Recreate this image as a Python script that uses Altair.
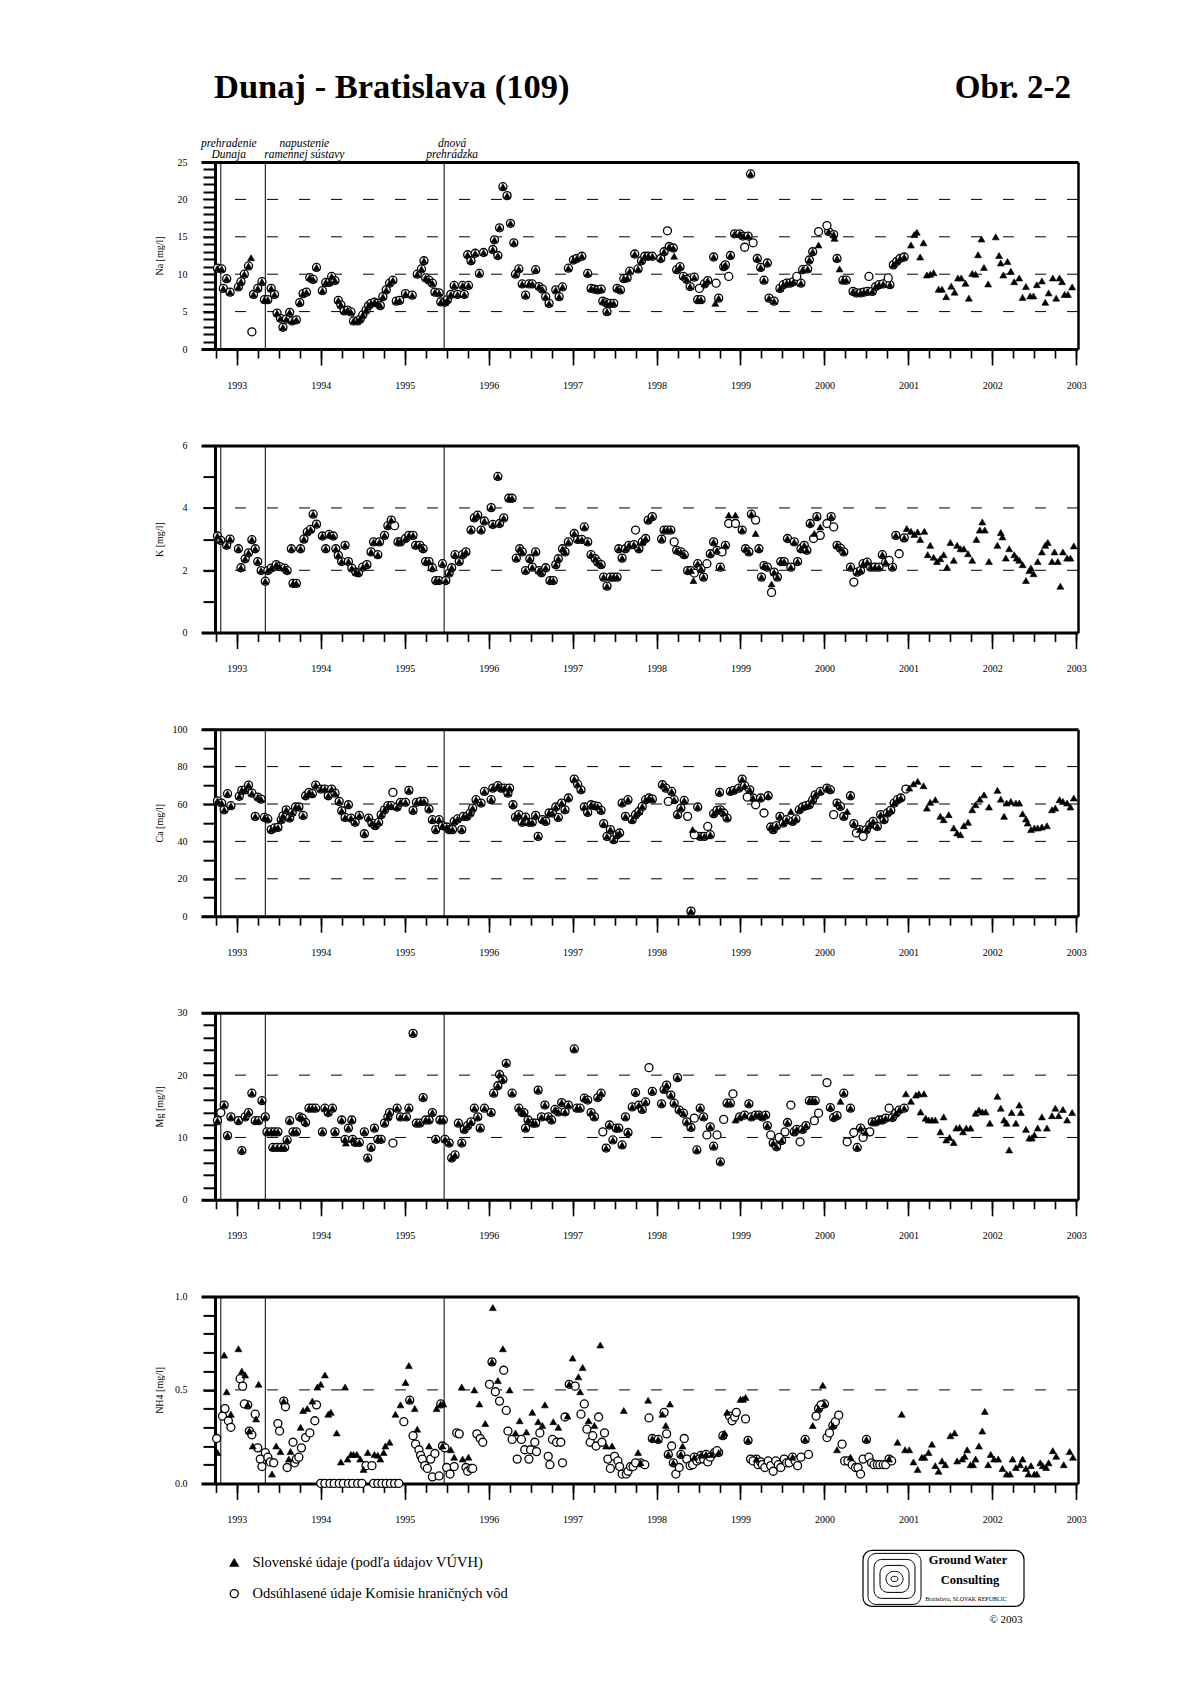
import json
import altair as alt
import pandas as pd

SERIF = "Liberation Serif"
SK = "Slovenské údaje (podľa údajov VÚVH)"
KH = "Odsúhlasené údaje Komisie hraničných vôd"

X_DOMAIN = [1992.574, 2003.02]
YEAR_TICKS = list(range(1993, 2004))
QUARTER_TICKS = [1992.75 + 0.25 * i for i in range(42)]
EVENTS = [1992.81, 1993.34, 1995.47]
EVENT_TEXT = [["prehradenie", "Dunaja"], ["napustenie", "ramennej sústavy"], ["dnová", "prehrádzka"]]
EVENT_DX = [8, 39, 8]

# ---------------- Na ----------------
NA_BOTH = [[1992.77,10.8],[1992.82,10.7],[1992.84,8.1],[1992.88,9.4],[1992.92,7.6],[1993.02,8.3],[1993.05,9.0],[1993.09,10.0],[1993.14,11.1],[1993.20,7.3],[1993.25,8.1],[1993.30,9.0],[1993.33,6.6],[1993.37,6.6],[1993.41,8.1],[1993.45,7.3],[1993.48,4.8],[1993.52,4.1],[1993.55,2.9],[1993.59,4.0],[1993.63,4.9],[1993.66,3.75],[1993.71,3.9],[1993.75,6.2],[1993.79,7.4],[1993.83,7.6],[1993.87,9.55],[1993.91,9.3],[1993.95,10.9],[1994.02,7.8],[1994.06,8.9],[1994.10,8.9],[1994.13,9.7],[1994.17,9.15],[1994.21,6.5],[1994.24,5.9],[1994.28,5.1],[1994.32,5.2],[1994.36,4.95],[1994.39,3.75],[1994.44,3.75],[1994.47,4.0],[1994.50,4.55],[1994.54,5.2],[1994.57,5.8],[1994.60,6.1],[1994.64,6.25],[1994.68,6.1],[1994.71,5.8],[1994.74,7.0],[1994.78,7.9],[1994.82,8.8],[1994.86,9.2],[1994.90,6.4],[1994.94,6.5],[1995.01,7.4],[1995.09,7.2],[1995.15,10.0],[1995.20,10.7],[1995.23,11.8],[1995.25,9.5],[1995.29,9.2],[1995.33,8.8],[1995.36,7.6],[1995.41,7.5],[1995.43,6.3],[1995.48,6.25],[1995.51,6.6],[1995.55,7.3],[1995.59,8.5],[1995.63,7.3],[1995.69,8.5],[1995.71,7.3],[1995.75,12.6],[1995.76,8.5],[1995.79,11.8],[1995.84,12.8],[1995.89,10.1],[1995.94,12.9],[1996.05,13.3],[1996.07,14.6],[1996.11,12.5],[1996.13,16.2],[1996.17,21.7],[1996.22,20.5],[1996.26,16.8],[1996.30,14.2],[1996.32,10.0],[1996.36,10.7],[1996.40,8.7],[1996.44,7.2],[1996.48,8.7],[1996.52,8.7],[1996.56,10.6],[1996.60,8.35],[1996.64,8.0],[1996.68,7.0],[1996.72,6.1],[1996.80,7.9],[1996.84,7.0],[1996.88,8.3],[1996.95,10.8],[1997.01,11.9],[1997.05,12.1],[1997.11,12.4],[1997.18,10.1],[1997.22,8.1],[1997.26,8.0],[1997.30,7.9],[1997.34,8.0],[1997.36,6.4],[1997.40,6.2],[1997.41,5.0],[1997.45,6.1],[1997.49,6.1],[1997.53,8.1],[1997.57,7.9],[1997.61,9.4],[1997.65,9.5],[1997.68,10.4],[1997.74,12.7],[1997.78,10.7],[1997.82,11.8],[1997.86,12.4],[1997.90,12.4],[1997.95,12.4],[1998.05,12.1],[1998.09,13.0],[1998.15,13.7],[1998.20,13.5],[1998.24,10.6],[1998.28,11.0],[1998.32,9.7],[1998.36,9.3],[1998.40,8.35],[1998.45,9.6],[1998.49,6.6],[1998.53,6.6],[1998.57,8.7],[1998.61,9.15],[1998.68,12.3],[1998.74,6.8],[1998.80,11.0],[1998.82,11.25],[1998.88,12.5],[1998.93,15.4],[1998.99,15.4],[1999.03,15.1],[1999.09,15.1],[1999.12,23.4],[1999.20,12.1],[1999.24,10.9],[1999.28,9.2],[1999.32,11.5],[1999.34,6.8],[1999.40,6.4],[1999.47,8.1],[1999.51,8.6],[1999.55,8.8],[1999.59,8.8],[1999.63,9.0],[1999.72,8.8],[1999.74,10.6],[1999.80,10.7],[1999.82,11.9],[1999.86,13.0],[2000.05,15.7],[2000.11,15.3],[2000.15,12.1],[2000.22,9.2],[2000.26,9.2],[2000.34,7.7],[2000.38,7.5],[2000.43,7.5],[2000.47,7.6],[2000.51,7.7],[2000.57,7.7],[2000.61,8.35],[2000.65,8.6],[2000.70,8.7],[2000.78,8.6],[2000.82,11.25],[2000.86,11.7],[2000.90,12.1],[2000.95,12.3]]
NA_SK = [[1993.17,12.2],[1998.21,12.4],[1998.70,6.1],[1999.93,13.9],[2000.12,14.8],[2000.18,10.7],[2001.03,13.9],[2001.07,15.3],[2001.10,15.6],[2001.14,12.3],[2001.18,14.2],[2001.22,9.9],[2001.26,10.0],[2001.30,10.2],[2001.36,8.0],[2001.40,8.0],[2001.45,7.0],[2001.51,8.4],[2001.55,7.6],[2001.59,9.5],[2001.63,9.5],[2001.68,8.8],[2001.72,6.8],[2001.76,10.1],[2001.80,10.0],[2001.83,12.6],[2001.87,14.7],[2001.90,10.9],[2001.95,8.7],[2002.04,15.0],[2002.08,12.5],[2002.10,11.5],[2002.13,9.9],[2002.18,11.7],[2002.22,10.4],[2002.26,9.0],[2002.32,9.5],[2002.36,6.9],[2002.40,8.35],[2002.45,7.1],[2002.49,7.1],[2002.53,8.6],[2002.59,9.1],[2002.63,6.25],[2002.67,7.5],[2002.72,9.5],[2002.76,6.8],[2002.80,9.5],[2002.83,9.0],[2002.86,7.3],[2002.90,7.3],[2002.95,8.3]]
NA_KH = [[1993.18,2.3],[1998.13,15.8],[1998.51,8.1],[1998.71,8.8],[1998.86,9.7],[1999.05,13.6],[1999.15,14.2],[1999.67,9.7],[1999.93,15.7],[2000.03,16.5],[2000.53,9.7],[2000.76,9.5]]
NA_TICKS = list(range(0, 26))
NA_LABELS = [0, 5, 10, 15, 20, 25]
NA_GRID = [5, 10, 15, 20]

# ---------------- K ----------------
K_BOTH = [[1992.77,3.10],[1992.81,2.96],[1992.88,2.80],[1992.92,3.00],[1993.02,2.69],[1993.05,2.08],[1993.10,2.37],[1993.14,2.56],[1993.18,2.98],[1993.22,2.69],[1993.25,2.28],[1993.29,1.99],[1993.34,1.65],[1993.37,1.99],[1993.41,2.07],[1993.47,2.18],[1993.51,2.12],[1993.57,2.07],[1993.60,1.99],[1993.65,2.69],[1993.67,1.58],[1993.71,1.58],[1993.76,2.69],[1993.80,3.00],[1993.84,3.23],[1993.88,3.31],[1993.91,3.80],[1993.95,3.48],[1994.02,3.10],[1994.06,2.69],[1994.10,3.15],[1994.15,3.10],[1994.18,2.69],[1994.21,2.48],[1994.25,2.28],[1994.29,2.80],[1994.33,2.28],[1994.37,2.07],[1994.42,1.94],[1994.45,1.92],[1994.50,2.10],[1994.55,2.18],[1994.60,2.59],[1994.63,2.91],[1994.68,2.50],[1994.70,2.91],[1994.76,3.12],[1994.80,3.43],[1994.84,3.61],[1994.92,2.91],[1994.95,2.91],[1995.01,3.02],[1995.05,3.12],[1995.10,3.12],[1995.13,2.80],[1995.18,2.80],[1995.22,2.69],[1995.25,2.28],[1995.29,2.28],[1995.33,2.08],[1995.37,1.67],[1995.41,1.67],[1995.45,2.21],[1995.49,1.67],[1995.53,1.91],[1995.56,2.08],[1995.60,2.50],[1995.65,2.28],[1995.69,2.50],[1995.73,2.59],[1995.79,3.29],[1995.83,3.68],[1995.87,3.77],[1995.91,3.29],[1995.95,3.58],[1996.03,4.01],[1996.05,3.47],[1996.11,5.01],[1996.13,3.50],[1996.18,3.68],[1996.24,4.31],[1996.28,4.31],[1996.33,2.39],[1996.37,2.69],[1996.40,2.59],[1996.44,1.99],[1996.49,2.37],[1996.52,2.10],[1996.56,2.59],[1996.60,1.99],[1996.63,1.92],[1996.68,2.08],[1996.73,1.67],[1996.77,1.67],[1996.80,2.18],[1996.83,2.37],[1996.88,2.69],[1996.91,2.59],[1996.95,2.91],[1997.02,3.18],[1997.06,2.99],[1997.11,2.99],[1997.14,3.39],[1997.18,2.91],[1997.22,2.50],[1997.27,2.37],[1997.30,2.26],[1997.34,2.18],[1997.37,1.78],[1997.41,1.49],[1997.45,1.78],[1997.49,1.78],[1997.53,1.78],[1997.55,2.69],[1997.59,2.39],[1997.63,2.69],[1997.67,2.80],[1997.73,2.82],[1997.79,2.69],[1997.83,2.91],[1997.87,3.02],[1997.90,3.61],[1997.95,3.72],[1998.06,3.00],[1998.09,3.29],[1998.13,3.29],[1998.17,3.29],[1998.24,2.64],[1998.29,2.59],[1998.33,2.50],[1998.37,1.99],[1998.41,1.99],[1998.49,2.21],[1998.53,2.05],[1998.56,1.78],[1998.64,2.53],[1998.68,2.91],[1998.72,2.64],[1998.76,2.10],[1998.82,2.80],[1999.02,3.29],[1999.06,2.69],[1999.10,2.59],[1999.13,3.80],[1999.22,2.69],[1999.25,1.78],[1999.28,2.15],[1999.32,2.10],[1999.40,1.94],[1999.44,1.78],[1999.48,2.28],[1999.52,2.28],[1999.56,3.02],[1999.60,2.10],[1999.64,2.91],[1999.68,2.28],[1999.72,2.69],[1999.76,2.80],[1999.79,2.64],[1999.83,3.50],[1999.91,3.72],[2000.08,3.72],[2000.15,2.80],[2000.19,2.71],[2000.23,2.59],[2000.31,2.10],[2000.39,1.94],[2000.43,1.99],[2000.46,2.21],[2000.51,2.26],[2000.55,2.10],[2000.60,2.10],[2000.65,2.10],[2000.69,2.50],[2000.73,2.26],[2000.81,2.10],[2000.85,3.12],[2000.95,3.04]]
K_SK = [[1998.44,1.67],[1998.86,3.77],[1998.94,3.77],[1999.18,3.18],[1999.37,1.56],[1999.88,3.18],[1999.95,3.39],[2000.98,3.34],[2001.03,3.25],[2001.07,3.15],[2001.11,3.23],[2001.14,2.99],[2001.19,3.25],[2001.23,2.50],[2001.26,2.80],[2001.30,2.42],[2001.34,2.28],[2001.38,2.37],[2001.42,2.50],[2001.46,2.10],[2001.50,2.89],[2001.54,2.32],[2001.58,2.80],[2001.62,2.69],[2001.66,2.69],[2001.71,2.53],[2001.76,2.32],[2001.81,2.99],[2001.85,3.29],[2001.88,3.55],[2001.91,3.29],[2001.96,2.28],[2002.06,2.80],[2002.10,3.21],[2002.12,3.07],[2002.16,2.39],[2002.20,2.69],[2002.26,2.50],[2002.29,2.39],[2002.32,2.32],[2002.36,2.18],[2002.40,1.67],[2002.44,1.99],[2002.46,2.07],[2002.49,1.89],[2002.54,2.28],[2002.59,2.59],[2002.63,2.80],[2002.66,2.89],[2002.71,2.28],[2002.74,2.59],[2002.78,2.28],[2002.81,1.49],[2002.84,2.59],[2002.89,2.39],[2002.93,2.39],[2002.97,2.78]]
K_KH = [[1994.88,3.43],[1997.75,3.29],[1998.21,2.91],[1998.45,1.91],[1998.60,2.21],[1998.78,2.59],[1998.86,3.50],[1998.94,3.50],[1999.18,3.61],[1999.37,1.29],[1999.87,3.02],[1999.95,3.12],[2000.03,3.50],[2000.11,3.39],[2000.35,1.62],[2000.77,2.32],[2000.89,2.53]]
K_TICKS = [0, 1, 2, 3, 4, 5, 6]
K_LABELS = [0, 2, 4, 6]
K_GRID = [2, 4]

# ---------------- Ca ----------------
CA_BOTH = [[1992.77,61.7],[1992.82,60.5],[1992.85,56.9],[1992.89,65.5],[1992.93,59.1],[1993.03,64.1],[1993.06,67.3],[1993.10,67.6],[1993.14,70.1],[1993.18,65.8],[1993.22,53.4],[1993.25,63.7],[1993.29,62.6],[1993.33,52.8],[1993.37,52.0],[1993.41,46.3],[1993.45,47.2],[1993.49,47.5],[1993.53,51.6],[1993.55,53.7],[1993.59,56.9],[1993.63,52.5],[1993.66,55.5],[1993.70,58.4],[1993.74,58.4],[1993.79,53.9],[1993.82,64.4],[1993.86,66.2],[1993.90,65.5],[1993.94,70.1],[1994.00,68.0],[1994.05,68.0],[1994.09,64.4],[1994.13,68.0],[1994.17,65.8],[1994.22,61.4],[1994.25,56.4],[1994.29,52.8],[1994.33,59.6],[1994.36,52.5],[1994.41,50.2],[1994.46,53.9],[1994.52,44.1],[1994.57,52.5],[1994.61,49.8],[1994.65,48.4],[1994.69,50.2],[1994.72,54.3],[1994.76,56.9],[1994.80,59.1],[1994.84,59.1],[1994.91,58.4],[1994.95,60.9],[1995.01,60.9],[1995.05,67.3],[1995.10,56.6],[1995.14,60.9],[1995.19,61.4],[1995.23,61.4],[1995.29,57.3],[1995.33,51.6],[1995.37,46.3],[1995.41,51.6],[1995.45,48.4],[1995.50,47.7],[1995.53,46.3],[1995.57,46.3],[1995.59,50.7],[1995.63,52.0],[1995.68,46.3],[1995.70,53.4],[1995.74,53.4],[1995.78,55.2],[1995.81,57.8],[1995.85,62.3],[1995.91,60.5],[1995.95,66.7],[1996.03,62.3],[1996.05,68.5],[1996.11,69.8],[1996.15,68.5],[1996.19,68.5],[1996.23,65.8],[1996.25,68.5],[1996.29,59.6],[1996.32,53.0],[1996.36,54.3],[1996.40,50.2],[1996.44,53.0],[1996.48,50.2],[1996.52,50.2],[1996.56,53.9],[1996.59,42.7],[1996.64,51.6],[1996.68,50.7],[1996.72,55.2],[1996.76,55.2],[1996.80,58.4],[1996.83,52.8],[1996.87,60.5],[1996.91,56.9],[1996.95,63.2],[1997.02,73.3],[1997.06,70.6],[1997.10,67.6],[1997.14,58.4],[1997.18,55.5],[1997.22,59.6],[1997.26,59.1],[1997.30,58.7],[1997.34,56.6],[1997.37,49.5],[1997.41,42.7],[1997.45,46.3],[1997.49,40.9],[1997.53,43.6],[1997.56,44.5],[1997.59,60.5],[1997.63,53.4],[1997.66,62.3],[1997.71,51.6],[1997.75,54.3],[1997.79,56.0],[1997.83,58.7],[1997.87,62.3],[1997.91,63.2],[1997.95,62.6],[1998.07,70.3],[1998.11,68.5],[1998.18,66.7],[1998.21,62.3],[1998.25,54.3],[1998.29,57.8],[1998.33,61.9],[1998.41,2.7],[1998.49,58.4],[1998.52,42.7],[1998.57,42.7],[1998.64,43.6],[1998.68,54.8],[1998.72,56.6],[1998.75,66.2],[1998.76,56.9],[1998.80,55.2],[1998.84,52.5],[1998.88,66.7],[1998.92,67.3],[1998.98,68.5],[1999.02,73.3],[1999.05,69.8],[1999.11,67.6],[1999.15,63.2],[1999.24,63.2],[1999.33,64.4],[1999.36,47.7],[1999.39,46.3],[1999.43,48.4],[1999.47,53.4],[1999.51,49.8],[1999.55,51.6],[1999.62,50.7],[1999.66,52.0],[1999.70,56.9],[1999.74,58.4],[1999.78,59.1],[1999.82,59.6],[1999.86,62.3],[1999.89,64.9],[1999.95,66.7],[2000.03,68.5],[2000.07,67.6],[2000.15,60.5],[2000.19,58.7],[2000.23,53.4],[2000.31,64.4],[2000.35,49.5],[2000.42,46.3],[2000.50,46.3],[2000.54,48.9],[2000.58,50.7],[2000.63,48.0],[2000.67,54.3],[2000.71,51.6],[2000.75,55.2],[2000.79,56.6],[2000.83,60.5],[2000.87,62.3],[2000.91,63.2]]
CA_SK = [[1998.43,46.3],[1999.60,56.0],[2000.27,56.0],[2001.01,68.5],[2001.06,70.8],[2001.11,72.1],[2001.18,69.8],[2001.22,57.8],[2001.26,60.9],[2001.32,62.3],[2001.38,53.4],[2001.42,51.6],[2001.48,54.3],[2001.54,47.2],[2001.58,44.5],[2001.62,43.6],[2001.66,48.4],[2001.71,50.2],[2001.76,56.9],[2001.80,59.6],[2001.85,62.6],[2001.90,64.9],[2001.96,58.4],[2002.06,67.3],[2002.10,62.6],[2002.14,53.4],[2002.17,60.5],[2002.22,61.4],[2002.28,60.5],[2002.32,60.5],[2002.36,54.8],[2002.40,52.0],[2002.42,49.8],[2002.46,46.3],[2002.50,47.2],[2002.54,47.2],[2002.59,47.7],[2002.65,48.4],[2002.71,56.9],[2002.75,57.8],[2002.80,62.3],[2002.84,61.4],[2002.89,60.5],[2002.93,58.4],[2002.97,63.2]]
CA_KH = [[1994.86,66.2],[1998.14,61.4],[1998.37,53.4],[1998.45,43.6],[1998.61,48.0],[1999.08,63.7],[1999.18,59.6],[1999.28,55.2],[2000.11,54.3],[2000.38,44.5],[2000.46,42.7],[2000.97,68.0]]
CA_TICKS = [0, 10, 20, 30, 40, 50, 60, 70, 80, 90, 100]
CA_LABELS = [0, 20, 40, 60, 80, 100]
CA_GRID = [20, 40, 60, 80]

# ---------------- Mg ----------------
MG_BOTH = [[1992.77,12.7],[1992.85,15.2],[1992.89,10.3],[1992.93,13.3],[1993.02,12.7],[1993.06,7.9],[1993.10,13.3],[1993.14,14.0],[1993.18,17.1],[1993.22,12.7],[1993.26,12.7],[1993.30,15.9],[1993.34,13.3],[1993.36,10.9],[1993.41,10.9],[1993.43,8.4],[1993.45,10.9],[1993.48,8.4],[1993.49,10.9],[1993.53,8.4],[1993.57,8.4],[1993.60,9.6],[1993.63,12.7],[1993.67,10.9],[1993.71,10.9],[1993.75,13.3],[1993.78,13.1],[1993.82,12.4],[1993.86,14.7],[1993.90,14.7],[1993.94,14.7],[1994.02,10.9],[1994.05,14.7],[1994.09,14.0],[1994.14,14.7],[1994.17,10.9],[1994.25,12.8],[1994.29,9.7],[1994.33,11.5],[1994.37,12.8],[1994.38,9.7],[1994.41,9.2],[1994.46,9.2],[1994.52,10.9],[1994.56,6.7],[1994.60,8.4],[1994.64,11.5],[1994.68,9.7],[1994.72,9.7],[1994.76,12.3],[1994.80,13.3],[1994.82,14.0],[1994.91,14.7],[1994.95,13.3],[1995.02,13.3],[1995.05,14.7],[1995.10,26.7],[1995.14,12.3],[1995.18,12.3],[1995.22,16.4],[1995.25,12.8],[1995.29,12.8],[1995.33,14.0],[1995.37,9.7],[1995.42,12.8],[1995.46,12.8],[1995.48,9.7],[1995.53,9.1],[1995.56,6.7],[1995.60,7.2],[1995.64,12.3],[1995.68,9.1],[1995.71,11.3],[1995.75,11.9],[1995.79,12.5],[1995.83,14.7],[1995.87,13.3],[1995.90,11.5],[1995.95,14.7],[1996.03,14.0],[1996.06,17.1],[1996.11,18.3],[1996.13,20.1],[1996.17,19.3],[1996.21,21.9],[1996.28,17.1],[1996.36,14.7],[1996.40,14.0],[1996.42,14.0],[1996.44,11.5],[1996.47,12.8],[1996.53,12.3],[1996.56,12.3],[1996.59,17.6],[1996.63,13.3],[1996.67,15.2],[1996.71,13.3],[1996.75,12.8],[1996.79,14.5],[1996.83,14.1],[1996.87,15.6],[1996.91,14.1],[1996.95,15.2],[1997.02,24.2],[1997.05,14.7],[1997.09,14.7],[1997.14,16.3],[1997.18,16.0],[1997.22,14.0],[1997.26,13.3],[1997.30,16.4],[1997.34,17.1],[1997.40,8.3],[1997.44,12.0],[1997.48,9.6],[1997.52,11.5],[1997.55,11.5],[1997.59,8.8],[1997.63,13.3],[1997.66,10.8],[1997.71,14.9],[1997.75,17.2],[1997.79,15.2],[1997.83,14.5],[1997.87,15.7],[1997.95,17.4],[1998.06,15.4],[1998.09,17.7],[1998.12,18.4],[1998.17,16.8],[1998.21,15.5],[1998.25,19.6],[1998.27,14.4],[1998.32,13.9],[1998.36,12.5],[1998.41,11.6],[1998.48,8.0],[1998.52,14.7],[1998.56,13.3],[1998.64,11.7],[1998.68,8.6],[1998.76,6.1],[1998.84,15.5],[1998.88,15.5],[1998.99,13.3],[1999.05,13.6],[1999.10,15.4],[1999.13,13.3],[1999.18,13.6],[1999.22,13.6],[1999.26,13.3],[1999.30,13.6],[1999.32,11.9],[1999.39,9.1],[1999.43,8.5],[1999.49,9.5],[1999.56,12.4],[1999.64,10.9],[1999.67,11.3],[1999.74,11.3],[1999.78,11.9],[1999.82,15.9],[1999.86,15.9],[1999.89,15.9],[2000.07,14.8],[2000.11,13.2],[2000.15,13.5],[2000.23,17.1],[2000.31,14.7],[2000.39,8.4],[2000.43,11.5],[2000.49,10.8],[2000.57,12.5],[2000.61,12.5],[2000.65,12.8],[2000.69,12.8],[2000.73,13.1],[2000.81,13.2],[2000.85,13.9],[2000.89,14.4],[2000.95,14.7]]
MG_SK = [[1994.30,9.1],[1998.94,12.8],[2000.19,15.8],[2000.97,17.0],[2001.03,15.8],[2001.09,16.8],[2001.125,17.0],[2001.145,14.1],[2001.185,17.0],[2001.205,13.1],[2001.24,12.8],[2001.28,12.8],[2001.32,12.8],[2001.38,10.9],[2001.42,13.3],[2001.45,9.6],[2001.49,10.0],[2001.54,9.2],[2001.57,11.5],[2001.61,11.6],[2001.65,10.9],[2001.69,11.5],[2001.74,11.5],[2001.80,13.9],[2001.84,14.4],[2001.88,14.1],[2001.92,14.1],[2001.97,12.3],[2002.06,16.6],[2002.10,14.7],[2002.14,12.8],[2002.17,12.3],[2002.20,8.0],[2002.23,14.0],[2002.28,12.3],[2002.32,15.2],[2002.34,14.0],[2002.40,11.3],[2002.44,9.9],[2002.47,9.9],[2002.50,10.4],[2002.54,11.5],[2002.59,13.3],[2002.65,11.5],[2002.71,13.5],[2002.75,14.7],[2002.79,13.5],[2002.84,14.5],[2002.89,12.8],[2002.95,14.0]]
MG_KH = [[1992.81,14.0],[1994.86,9.1],[1997.36,10.9],[1997.91,21.2],[1998.45,13.1],[1998.60,10.4],[1998.72,10.4],[1998.80,12.9],[1998.91,17.0],[1999.36,10.4],[1999.46,10.0],[1999.53,10.9],[1999.60,15.2],[1999.71,9.3],[1999.88,12.7],[1999.93,13.9],[2000.03,18.8],[2000.27,9.3],[2000.35,10.8],[2000.46,10.0],[2000.54,10.9],[2000.77,14.7]]
MG_TICKS = list(range(0, 31, 2))
MG_LABELS = [0, 10, 20, 30]
MG_GRID = [10, 20]

# ---------------- NH4 ----------------
NH_BOTH = [[1993.13,0.42],[1993.15,0.28],[1993.56,0.44],[1995.06,0.445],[1995.43,0.425],[1995.45,0.20],[1996.04,0.65],[1996.96,0.53],[1997.81,0.11],[1997.95,0.24],[1998.02,0.235],[1998.14,0.155],[1998.20,0.11],[1998.29,0.155],[1998.45,0.14],[1998.53,0.15],[1998.59,0.155],[1998.74,0.165],[1998.79,0.255],[1999.09,0.23],[1999.19,0.13],[1999.62,0.14],[1999.77,0.235],[1999.93,0.40],[2000.00,0.425],[2000.10,0.31],[2000.50,0.235],[2000.77,0.13]]
NH_SK = [[1992.77,0.165],[1992.85,0.686],[1992.88,0.49],[1992.93,0.37],[1993.02,0.72],[1993.06,0.60],[1993.10,0.58],[1993.19,0.20],[1993.23,0.345],[1993.26,0.53],[1993.42,0.05],[1993.47,0.20],[1993.52,0.17],[1993.62,0.13],[1993.64,0.17],[1993.76,0.30],[1993.79,0.39],[1993.84,0.40],[1993.90,0.44],[1993.96,0.515],[1994.00,0.53],[1994.05,0.58],[1994.09,0.37],[1994.12,0.38],[1994.19,0.27],[1994.24,0.115],[1994.29,0.515],[1994.32,0.13],[1994.36,0.155],[1994.39,0.155],[1994.43,0.155],[1994.47,0.13],[1994.51,0.075],[1994.56,0.165],[1994.64,0.155],[1994.68,0.15],[1994.71,0.13],[1994.75,0.165],[1994.77,0.20],[1994.82,0.22],[1994.89,0.37],[1994.95,0.42],[1995.01,0.54],[1995.05,0.63],[1995.12,0.40],[1995.15,0.29],[1995.29,0.20],[1995.38,0.40],[1995.46,0.425],[1995.55,0.18],[1995.59,0.14],[1995.68,0.515],[1995.69,0.13],[1995.76,0.14],[1995.83,0.50],[1995.89,0.425],[1995.96,0.32],[1996.05,0.94],[1996.11,0.55],[1996.17,0.72],[1996.25,0.50],[1996.32,0.27],[1996.37,0.335],[1996.45,0.275],[1996.52,0.38],[1996.59,0.33],[1996.64,0.31],[1996.67,0.42],[1996.77,0.33],[1996.83,0.30],[1996.94,0.36],[1997.00,0.67],[1997.07,0.57],[1997.09,0.49],[1997.12,0.62],[1997.19,0.335],[1997.26,0.31],[1997.33,0.74],[1997.40,0.20],[1997.47,0.20],[1997.61,0.39],[1997.78,0.165],[1997.90,0.445],[1998.07,0.37],[1998.11,0.31],[1998.16,0.425],[1998.31,0.20],[1998.66,0.155],[1998.81,0.27],[1998.84,0.38],[1999.00,0.45],[1999.03,0.45],[1999.06,0.46],[1999.86,0.31],[1999.98,0.525],[2000.15,0.18],[2000.31,0.14],[2000.87,0.22],[2000.92,0.37],[2000.96,0.18],[2001.01,0.18],[2001.06,0.115],[2001.11,0.075],[2001.16,0.14],[2001.19,0.14],[2001.24,0.165],[2001.28,0.21],[2001.32,0.095],[2001.36,0.065],[2001.40,0.12],[2001.44,0.10],[2001.50,0.255],[2001.55,0.27],[2001.58,0.12],[2001.64,0.13],[2001.67,0.145],[2001.70,0.18],[2001.74,0.10],[2001.77,0.10],[2001.80,0.13],[2001.84,0.20],[2001.88,0.28],[2001.91,0.385],[2001.95,0.10],[2001.98,0.155],[2002.02,0.13],[2002.07,0.13],[2002.12,0.08],[2002.17,0.05],[2002.21,0.05],[2002.24,0.13],[2002.28,0.085],[2002.33,0.10],[2002.36,0.13],[2002.40,0.08],[2002.43,0.05],[2002.46,0.095],[2002.50,0.05],[2002.53,0.05],[2002.57,0.11],[2002.60,0.095],[2002.64,0.085],[2002.67,0.11],[2002.72,0.175],[2002.76,0.145],[2002.85,0.10],[2002.92,0.17],[2002.96,0.14]]
NH_KH = [[1992.76,0.24],[1992.83,0.36],[1992.86,0.40],[1992.90,0.335],[1992.93,0.30],[1993.04,0.56],[1993.07,0.52],[1993.09,0.425],[1993.18,0.26],[1993.22,0.37],[1993.25,0.19],[1993.28,0.13],[1993.30,0.09],[1993.34,0.165],[1993.37,0.14],[1993.40,0.115],[1993.44,0.11],[1993.49,0.32],[1993.51,0.28],[1993.58,0.41],[1993.60,0.085],[1993.67,0.22],[1993.69,0.11],[1993.71,0.13],[1993.74,0.14],[1993.77,0.19],[1993.82,0.245],[1993.87,0.27],[1993.93,0.335],[1993.95,0.42],[1994.00,0.0],[1994.05,0.0],[1994.11,0.0],[1994.16,0.0],[1994.22,0.0],[1994.27,0.0],[1994.33,0.0],[1994.38,0.0],[1994.44,0.0],[1994.49,0.0],[1994.54,0.095],[1994.61,0.095],[1994.63,0.0],[1994.68,0.0],[1994.73,0.0],[1994.78,0.0],[1994.83,0.0],[1994.88,0.0],[1994.93,0.0],[1994.99,0.33],[1995.10,0.255],[1995.13,0.21],[1995.17,0.18],[1995.19,0.15],[1995.21,0.13],[1995.24,0.095],[1995.27,0.08],[1995.31,0.13],[1995.33,0.035],[1995.36,0.16],[1995.41,0.04],[1995.48,0.19],[1995.50,0.085],[1995.54,0.05],[1995.59,0.09],[1995.62,0.27],[1995.65,0.265],[1995.73,0.085],[1995.75,0.065],[1995.79,0.08],[1995.81,0.08],[1995.86,0.265],[1995.90,0.24],[1995.93,0.22],[1996.01,0.53],[1996.08,0.49],[1996.13,0.44],[1996.18,0.605],[1996.21,0.39],[1996.23,0.28],[1996.28,0.235],[1996.34,0.13],[1996.39,0.235],[1996.43,0.18],[1996.48,0.13],[1996.50,0.18],[1996.55,0.22],[1996.57,0.17],[1996.61,0.27],[1996.71,0.145],[1996.73,0.10],[1996.76,0.235],[1996.81,0.22],[1996.86,0.22],[1996.88,0.11],[1996.91,0.355],[1997.03,0.52],[1997.10,0.37],[1997.14,0.425],[1997.17,0.29],[1997.21,0.22],[1997.24,0.255],[1997.28,0.20],[1997.31,0.355],[1997.35,0.22],[1997.38,0.27],[1997.42,0.13],[1997.45,0.08],[1997.50,0.145],[1997.54,0.12],[1997.56,0.09],[1997.59,0.05],[1997.64,0.05],[1997.66,0.065],[1997.69,0.09],[1997.72,0.09],[1997.75,0.11],[1997.86,0.10],[1997.91,0.35],[1998.09,0.38],[1998.12,0.265],[1998.18,0.20],[1998.23,0.05],[1998.27,0.085],[1998.33,0.24],[1998.36,0.13],[1998.40,0.095],[1998.43,0.10],[1998.48,0.12],[1998.51,0.13],[1998.56,0.13],[1998.61,0.115],[1998.64,0.14],[1998.69,0.165],[1998.72,0.175],[1998.87,0.36],[1998.90,0.335],[1998.93,0.355],[1998.95,0.38],[1999.06,0.345],[1999.12,0.13],[1999.15,0.12],[1999.21,0.10],[1999.24,0.115],[1999.26,0.10],[1999.29,0.085],[1999.33,0.12],[1999.36,0.095],[1999.39,0.065],[1999.42,0.12],[1999.45,0.10],[1999.48,0.085],[1999.52,0.13],[1999.55,0.11],[1999.58,0.11],[1999.65,0.12],[1999.68,0.095],[1999.72,0.14],[1999.81,0.155],[1999.90,0.36],[1999.96,0.42],[2000.03,0.245],[2000.06,0.27],[2000.13,0.33],[2000.17,0.365],[2000.21,0.21],[2000.24,0.12],[2000.28,0.12],[2000.33,0.10],[2000.37,0.085],[2000.40,0.085],[2000.43,0.05],[2000.46,0.13],[2000.53,0.14],[2000.56,0.11],[2000.59,0.10],[2000.63,0.10],[2000.66,0.10],[2000.70,0.10],[2000.73,0.10],[2000.80,0.12]]
NH_TICKS = [0.0, 0.1, 0.2, 0.3, 0.4, 0.5, 0.6, 0.7, 0.8, 0.9, 1.0]
NH_LABELS = [0, 0.5, 1]
NH_GRID = [0.5]

# logo decoration (nested rounded outlines of the swirl emblem), pixel boxes inside panel 5
LOGO_RINGS = [[667, 720, 257, 308], [673, 714, 263, 302], [679, 708, 269, 296], [685, 702, 275, 290], [690, 697, 280, 285]]

W, H = 877, 187


def frames(both, sk, kh):
    circ = pd.DataFrame([{"t": t, "v": v, "s": KH} for t, v in both + kh])
    tri = pd.DataFrame([{"t": t, "v": v, "s": SK} for t, v in both + sk])
    return circ, tri


def panel(title, both, sk, kh, ymax, ticks, labels, grid, fmt, first=False, last=False):
    xs = alt.Scale(domain=X_DOMAIN, nice=False, zero=False)
    ys = alt.Scale(domain=[0, ymax], nice=False, zero=True)
    circ, tri = frames(both, sk, kh)

    if last:
        leg = alt.Legend(orient="none", legendX=26, legendY=259, title=None, direction="vertical",
                         labelFont=SERIF, labelFontSize=14.5, labelColor="black", labelLimit=600,
                         symbolSize=64, symbolStrokeWidth=1.3,
                         rowPadding=16, labelOffset=11, padding=0)
    else:
        leg = None
    shape_scale = alt.Scale(domain=[SK, KH], range=["triangle-up", "circle"])
    fill_scale = alt.Scale(domain=[SK, KH], range=["black", "white"])
    stroke_scale = alt.Scale(domain=[SK, KH], range=["black", "black"])

    grid_layer = alt.Chart(pd.DataFrame({"g": grid})).mark_rule(
        color="black", strokeWidth=1, strokeDash=[11, 21]
    ).encode(
        y=alt.Y("g:Q", scale=ys, axis=alt.Axis(orient="right", ticks=False, labels=False, domainWidth=2.5,
                                               domainColor="black", grid=False, title=None))
    )
    event_layer = alt.Chart(pd.DataFrame({"e": EVENTS})).mark_rule(color="black", strokeWidth=1).encode(
        x=alt.X("e:Q", scale=xs, axis=alt.Axis(orient="bottom", values=QUARTER_TICKS, tickSize=9, tickWidth=1.6,
                                               tickColor="black", labels=False, domain=False, grid=False,
                                               title=None))
    )
    circles = alt.Chart(circ).mark_point(filled=True, size=64, strokeWidth=1.3, opacity=1).encode(
        x=alt.X("t:Q", scale=xs, axis=alt.Axis(orient="top", ticks=False, labels=False, domainWidth=3,
                                               domainColor="black", grid=False, title=None)),
        y=alt.Y("v:Q", scale=ys, axis=None),
        shape=alt.Shape("s:N", scale=shape_scale, legend=leg),
        fill=alt.Fill("s:N", scale=fill_scale, legend=leg),
        stroke=alt.Stroke("s:N", scale=stroke_scale, legend=leg),
    )
    label_expr = "indexof(%s, datum.value) >= 0 ? datum.label : ''" % json.dumps(labels)
    tris = alt.Chart(tri).mark_point(filled=True, size=48, strokeWidth=0.6, opacity=1).encode(
        x=alt.X("t:Q", scale=xs, axis=alt.Axis(orient="bottom", values=YEAR_TICKS, format="d", tickSize=16,
                                               tickWidth=1.6, tickColor="black", domainWidth=3,
                                               domainColor="black", labelPadding=15, labelFont=SERIF,
                                               labelFontSize=10, labelColor="black", labelFlush=False,
                                               labelOverlap=False, grid=False, title=None)),
        y=alt.Y("v:Q", scale=ys, axis=alt.Axis(orient="left", offset=-14, values=ticks, format=fmt,
                                               labelExpr=label_expr, tickSize=12, tickWidth=2,
                                               tickColor="black", domainWidth=3, domainColor="black",
                                               labelPadding=16, labelFont=SERIF, labelFontSize=10,
                                               labelColor="black", labelFlush=False, labelOverlap=False,
                                               grid=False, title=title, titleX=-56, titleY=H / 2,
                                               titleAngle=270, titleBaseline="middle", titleAlign="center",
                                               titleFont=SERIF, titleFontSize=10, titleFontWeight="normal",
                                               titleColor="black")),
        shape=alt.Shape("s:N", scale=shape_scale, legend=leg),
        fill=alt.Fill("s:N", scale=fill_scale, legend=leg),
        stroke=alt.Stroke("s:N", scale=stroke_scale, legend=leg),
    )
    layers = [grid_layer, event_layer, circles, tris]
    one = pd.DataFrame({"a": [0]})

    if first:
        layers.append(alt.Chart(one).mark_text(align="left", baseline="alphabetic", font=SERIF, fontSize=34.5,
                                               fontWeight="bold", color="black").encode(
            x=alt.value(13), y=alt.value(-64), text=alt.value("Dunaj - Bratislava (109)")))
        layers.append(alt.Chart(one).mark_text(align="right", baseline="alphabetic", font=SERIF, fontSize=33,
                                               fontWeight="bold", color="black").encode(
            x=alt.value(870), y=alt.value(-64), text=alt.value("Obr. 2-2")))
        for ev, txt, dx in zip(EVENTS, EVENT_TEXT, EVENT_DX):
            layers.append(alt.Chart(pd.DataFrame({"t": [ev]})).mark_text(
                align="center", baseline="alphabetic", dx=dx, font=SERIF, fontStyle="italic", fontSize=11.5,
                lineHeight=10.5, color="black").encode(
                x=alt.X("t:Q", scale=xs, axis=None), y=alt.value(-15), text=alt.value(txt)))

    if last:
        layers.append(alt.Chart(one).mark_rect(cornerRadius=9, fill="white", stroke="black", strokeWidth=1.2).encode(
            x=alt.value(662), x2=alt.value(823), y=alt.value(254), y2=alt.value(310)))
        for x1, x2, y1, y2 in LOGO_RINGS:
            layers.append(alt.Chart(one).mark_rect(cornerRadius=8, fill="white", fillOpacity=0, stroke="black",
                                                   strokeWidth=1).encode(
                x=alt.value(x1), x2=alt.value(x2), y=alt.value(y1), y2=alt.value(y2)))
        for txt, xx, yy, fs, fw in [("Ground Water", 767, 268, 12.5, "bold"), ("Consulting", 769, 288, 12.5, "bold"),
                                    ("Bratislava, SLOVAK REPUBLIC", 765, 305, 6, "normal"),
                                    ("© 2003", 805, 327, 11, "normal")]:
            layers.append(alt.Chart(one).mark_text(align="center", baseline="alphabetic", font=SERIF, fontSize=fs,
                                                   fontWeight=fw, color="black").encode(
                x=alt.value(xx), y=alt.value(yy), text=alt.value(txt)))

    return alt.layer(*layers).resolve_axis(x="independent", y="independent").properties(width=W, height=H)


p1 = panel("Na [mg/l]", NA_BOTH, NA_SK, NA_KH, 25, NA_TICKS, NA_LABELS, NA_GRID, "d", first=True)
p2 = panel("K [mg/l]", K_BOTH, K_SK, K_KH, 6, K_TICKS, K_LABELS, K_GRID, "d")
p3 = panel("Ca [mg/l]", CA_BOTH, CA_SK, CA_KH, 100, CA_TICKS, CA_LABELS, CA_GRID, "d")
p4 = panel("Mg [mg/l]", MG_BOTH, MG_SK, MG_KH, 30, MG_TICKS, MG_LABELS, MG_GRID, "d")
p5 = panel("NH4 [mg/l]", NH_BOTH, NH_SK, NH_KH, 1, NH_TICKS, NH_LABELS, NH_GRID, ".1f", last=True)

chart = alt.vconcat(p1, p2, p3, p4, p5, spacing=96.6, bounds="flush").resolve_scale(
    shape="independent", fill="independent", stroke="independent"
).properties(
    padding={"left": 146, "top": 62, "right": 10, "bottom": 10},
    background="white",
).configure_view(stroke=None)

chart.save("out.html", embed_options={"renderer": "svg", "actions": False})
